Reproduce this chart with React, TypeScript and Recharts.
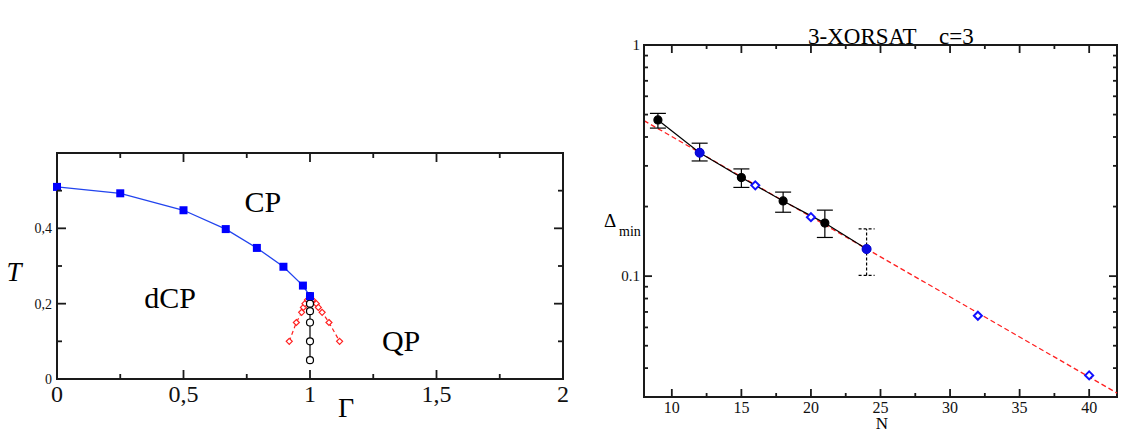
import React from "react";
import { ComposedChart, Line, XAxis, YAxis, ErrorBar, ReferenceDot, ReferenceArea } from "recharts";

const SERIF = '"Liberation Serif", "DejaVu Serif", serif';
const AXIS = "#1a1a1a";

// ---- left panel: phase diagram T vs Gamma ----
const boundaryGamma = [0, 0.25, 0.5, 0.667, 0.79, 0.895, 0.972, 1.0];
const boundaryT = [0.51, 0.493, 0.448, 0.398, 0.348, 0.298, 0.248, 0.22];
const leftBranchGamma = [0.918, 0.946, 0.967, 0.974, 0.98, 0.99];
const leftBranchT = [0.1, 0.15, 0.177, 0.19, 0.2, 0.21];
const rightBranchGamma = [1.01, 1.025, 1.033, 1.048, 1.075, 1.117];
const rightBranchT = [0.21, 0.2, 0.19, 0.177, 0.15, 0.1];
const verticalGamma = [1, 1, 1, 1, 1, 1];
const verticalT = [0.05, 0.1, 0.15, 0.18, 0.2, 0.22];
const regionNames = ["CP", "dCP", "QP"];
const regionGamma = [0.814, 0.447, 1.36];
const regionT = [0.471, 0.216, 0.103];
const gammaTicks = [0, 0.25, 0.5, 0.75, 1, 1.25, 1.5, 1.75, 2];
const gammaMajor = [0, 0.5, 1, 1.5, 2];
const tTicks = [0, 0.1, 0.2, 0.3, 0.4, 0.5];
const tMajor = [0, 0.2, 0.4];

// ---- right panel: 3-XORSAT gap vs N ----
const sizesN = [9, 12, 15, 18, 21, 24];
const gapMean = [0.474, 0.342, 0.267, 0.2116, 0.1696, 0.131];
const gapLow = [0.437, 0.315, 0.242, 0.189, 0.147, 0.1007];
const gapHigh = [0.506, 0.376, 0.291, 0.231, 0.193, 0.16];
const blueN = [12, 24];
const blueGap = [0.342, 0.131];
const diamondN = [16, 20, 32, 40];
const diamondGap = [0.247, 0.18, 0.0674, 0.0372];
const fitN = [8, 42];
const fitGap = [0.471, 0.0312];
const nTicks = [10, 12.5, 15, 17.5, 20, 22.5, 25, 27.5, 30, 32.5, 35, 37.5, 40];
const nMajor = [10, 15, 20, 25, 30, 35, 40];
const gapTicks = [0.03, 0.04, 0.05, 0.06, 0.07, 0.08, 0.09, 0.1, 0.2, 0.3, 0.4, 0.5, 0.6, 0.7, 0.8, 0.9, 1];
const gapMajor = [0.1, 1];

const zip = (xs: number[], ys: number[], xk: string, yk: string) =>
  xs.map((x, i) => ({ [xk]: x, [yk]: ys[i] }));

const boundary = zip(boundaryGamma, boundaryT, "g", "t");
const leftBranch = zip(leftBranchGamma, leftBranchT, "g", "t");
const rightBranch = zip(rightBranchGamma, rightBranchT, "g", "t");
const vertical = zip(verticalGamma, verticalT, "g", "t");

const gapRows = sizesN.map((n, i) => ({ n, v: gapMean[i], err: [gapMean[i] - gapLow[i], gapHigh[i] - gapMean[i]] }));
const blueRows = zip(blueN, blueGap, "n", "v");
const diamondRows = zip(diamondN, diamondGap, "n", "v");
const fitRows = zip(fitN, fitGap, "n", "v");

type TickOpts = { side: "bottom" | "left"; span: number; majors: number[]; margin: number; major: number; minor: number; fontSize: number; fmt: (v: number) => string };

// inward ticks on both the axis side and the opposite frame side (span = plot size)
const makeTick = (o: TickOpts) => (p: any) => {
  const v = p.payload.value;
  const isMajor = o.majors.includes(v);
  const len = isMajor ? o.major : o.minor;
  const x = Number(p.x);
  const y = Number(p.y);
  const st = { stroke: AXIS, strokeWidth: 1.8 };
  if (o.side === "bottom") {
    const ay = y - o.margin;
    const ty = ay - o.span;
    return (
      <g>
        <line x1={x} y1={ay} x2={x} y2={ay - len} {...st} />
        <line x1={x} y1={ty} x2={x} y2={ty + len} {...st} />
        {isMajor && <text x={x} y={y} dy="0.71em" textAnchor="middle" fontSize={o.fontSize} fill="#111" style={{ fontFamily: SERIF }}>{o.fmt(v)}</text>}
      </g>
    );
  }
  const ax = x + o.margin;
  const rx = ax + o.span;
  return (
    <g>
      <line x1={ax} y1={y} x2={ax + len} y2={y} {...st} />
      <line x1={rx} y1={y} x2={rx - len} y2={y} {...st} />
      {isMajor && <text x={x} y={y} dy="0.355em" textAnchor="end" fontSize={o.fontSize} fill="#111" style={{ fontFamily: SERIF }}>{o.fmt(v)}</text>}
    </g>
  );
};

const comma = (v: number) => String(v).replace(".", ",");
const axisLine = { stroke: AXIS, strokeWidth: 2 };

const square = (p: any) => <rect key={`sq${p.index}`} x={p.cx - 4} y={p.cy - 4} width={8} height={8} fill="#0000ff" />;
const redDiamond = (p: any) => (
  <polygon key={`rd${p.index}`} points={`${p.cx},${p.cy - 3} ${p.cx + 3},${p.cy} ${p.cx},${p.cy + 3} ${p.cx - 3},${p.cy}`} fill="#fff" stroke="#ff2020" strokeWidth={1.2} />
);
const openCircle = (p: any) => <circle key={`oc${p.index}`} cx={p.cx} cy={p.cy} r={3.5} fill="#fff" stroke="#000" strokeWidth={1.2} />;
const blueDiamond = (p: any) => (
  <polygon key={`bd${p.index}`} points={`${p.cx},${p.cy - 4} ${p.cx + 4},${p.cy} ${p.cx},${p.cy + 4} ${p.cx - 4},${p.cy}`} fill="#fff" stroke="#1010ff" strokeWidth={2} />
);

function PhaseDiagram() {
  // plot box 57..563 x 153..379
  return (
    <ComposedChart width={590} height={433} margin={{ top: 153, right: 27, bottom: 53, left: 56 }}>
      <XAxis type="number" dataKey="g" domain={[0, 2]} ticks={gammaTicks} height={1} tickSize={0} tickMargin={6} tickLine={false} axisLine={axisLine}
        tick={makeTick({ side: "bottom", span: 226, majors: gammaMajor, margin: 6, major: 9, minor: 5, fontSize: 24, fmt: comma })} interval={0} />
      <YAxis type="number" domain={[0, 0.6]} ticks={tTicks} width={1} tickSize={0} tickMargin={5} tickLine={false} axisLine={axisLine}
        tick={makeTick({ side: "left", span: 506, majors: tMajor, margin: 5, major: 9, minor: 5, fontSize: 14, fmt: comma })} interval={0} />
      <ReferenceArea x1={0} x2={2} y1={0} y2={0.6} fill="none" stroke={AXIS} strokeWidth={2} ifOverflow="visible" />
      <Line data={leftBranch} dataKey="t" stroke="#ff2020" strokeWidth={1.2} strokeDasharray="4 3" dot={redDiamond} isAnimationActive={false} />
      <Line data={rightBranch} dataKey="t" stroke="#ff2020" strokeWidth={1.2} strokeDasharray="4 3" dot={redDiamond} isAnimationActive={false} />
      <Line data={vertical} dataKey="t" stroke="#000" strokeWidth={1.2} dot={openCircle} isAnimationActive={false} />
      <Line data={boundary} dataKey="t" stroke="#2244ee" strokeWidth={1.3} dot={square} isAnimationActive={false} />
      {regionNames.map((name, i) => (
        <ReferenceDot key={name} x={regionGamma[i]} y={regionT[i]} r={0} stroke="none"
          label={{ value: name, position: "center", fontSize: 30, fontFamily: SERIF, fill: "#000" }} />
      ))}
    </ComposedChart>
  );
}

function GapChart() {
  // plot box 644..1117 x 45..397 (page coordinates)
  return (
    <ComposedChart width={547} height={433} margin={{ top: 45, right: 20, bottom: 35, left: 53 }}>
      <XAxis type="number" dataKey="n" domain={[8, 42]} ticks={nTicks} height={1} tickSize={0} tickMargin={5} tickLine={false} axisLine={axisLine}
        tick={makeTick({ side: "bottom", span: 352, majors: nMajor, margin: 5, major: 8, minor: 4, fontSize: 16, fmt: (v) => String(v) })} interval={0} />
      <YAxis type="number" scale="log" domain={[0.03, 1]} ticks={gapTicks} width={1} tickSize={0} tickMargin={4} tickLine={false} axisLine={axisLine}
        tick={makeTick({ side: "left", span: 473, majors: gapMajor, margin: 4, major: 8, minor: 4, fontSize: 15, fmt: (v) => String(v) })} interval={0} />
      <ReferenceArea x1={8} x2={42} y1={0.03} y2={1} fill="none" stroke={AXIS} strokeWidth={2} ifOverflow="visible" />
      <Line data={fitRows} dataKey="v" stroke="#ff2020" strokeWidth={1.3} strokeDasharray="5 3" dot={false} isAnimationActive={false} />
      <Line data={gapRows.slice(0, 5)} dataKey="v" stroke="none" dot={false} isAnimationActive={false}>
        <ErrorBar dataKey="err" width={8} stroke="#000" strokeWidth={1.2} direction="y" />
      </Line>
      <Line data={gapRows.slice(5)} dataKey="v" stroke="none" dot={false} isAnimationActive={false}>
        <ErrorBar dataKey="err" width={8} stroke="#000" strokeWidth={1.2} strokeDasharray="3 2" direction="y" />
      </Line>
      <Line data={gapRows} dataKey="v" stroke="#000" strokeWidth={1.2} dot={{ r: 4, fill: "#000", stroke: "#000" }} isAnimationActive={false} />
      <Line data={blueRows} dataKey="v" stroke="none" dot={{ r: 4.5, fill: "#0a0ae0", stroke: "#0a0ae0" }} isAnimationActive={false} />
      <Line data={diamondRows} dataKey="v" stroke="none" dot={blueDiamond} isAnimationActive={false} />
    </ComposedChart>
  );
}

const label = { fontFamily: SERIF, fill: "#000" };

export default function App() {
  return (
    <div style={{ position: "absolute", left: 0, top: 0, width: 1137, height: 433, background: "#fff" }}>
      <div style={{ position: "absolute", left: 0, top: 0 }}>
        <PhaseDiagram />
      </div>
      <div style={{ position: "absolute", left: 590, top: 0 }}>
        <GapChart />
      </div>
      <svg width={1137} height={433} style={{ position: "absolute", left: 0, top: 0, pointerEvents: "none" }}>
        <text x={14} y={272} dy="0.35em" textAnchor="middle" fontSize={27} fontStyle="italic" style={label}>T</text>
        <text x={346} y={417} textAnchor="middle" fontSize={28} style={label}>Γ</text>
        <text x={808} y={44} fontSize={23} style={label}>3-XORSAT</text>
        <text x={939} y={44} fontSize={23} style={label}>c=3</text>
        <text x={604} y={227} fontSize={19} style={label}>Δ</text>
        <text x={619} y={236} fontSize={14} style={label}>min</text>
        <text x={882} y={429} textAnchor="middle" fontSize={17} style={label}>N</text>
      </svg>
    </div>
  );
}
